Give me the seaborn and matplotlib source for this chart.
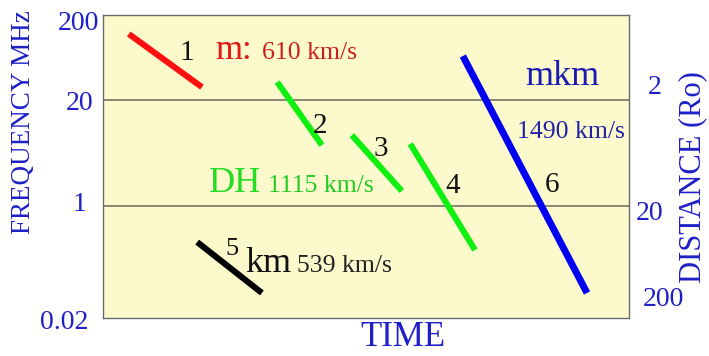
import numpy as np
import pandas as pd
import matplotlib
matplotlib.use("Agg")
import matplotlib.pyplot as plt
import matplotlib.transforms as mtransforms
import seaborn as sns

# Radio burst tracks (arbitrary time units, frequency in MHz)
burst_ids = ["1", "2", "3", "4", "5", "6"]
t_start = [4.9, 33.1, 47.3, 58.4, 17.9, 68.4]
t_end = [18.8, 41.6, 56.8, 70.7, 30.2, 92.0]
f_start = [134.0, 33.6, 7.4, 5.8, 0.284, 71.0]
f_end = [29.0, 5.6, 1.53, 0.215, 0.048, 0.048]

freq_ticks = [200, 20, 1, 0.02]
freq_tick_labels = ["200", "20", "1", "0.02"]
dist_tick_labels = ["2", "20", "200"]

sns.set_theme(style="white")
plt.rcParams["font.family"] = ["Liberation Serif", "DejaVu Serif"]

rows = []
for b, t0, t1, f0, f1 in zip(burst_ids, t_start, t_end, f_start, f_end):
    rows.append({"burst": b, "time": t0, "freq": f0})
    rows.append({"burst": b, "time": t1, "freq": f1})
df = pd.DataFrame(rows)

palette = {"1": "#ff1010", "2": "#10f010", "3": "#10f010",
           "4": "#10f010", "5": "#000000", "6": "#0000f0"}

# Schematic frequency axis: piecewise logarithmic spacing
LOG_KNOTS = np.array([-4.0, -1.699, 0.0, 1.301, 2.301, 4.0])
POS_KNOTS = np.array([-151.7, 0.0, 112.0, 218.0, 298.0, 434.0])


def fwd(f):
    lf = np.log10(np.clip(np.asarray(f, dtype=float), 1e-12, None))
    return np.interp(lf, LOG_KNOTS, POS_KNOTS)


def inv(p):
    return 10 ** np.interp(np.asarray(p, dtype=float), POS_KNOTS, LOG_KNOTS)


fig = plt.figure(figsize=(7.09, 3.56), dpi=100)
ax = fig.add_axes([0.1453, 0.1067, 0.742, 0.851])
ax.set_facecolor("#fcf9cc")
ax.set_yscale("function", functions=(fwd, inv))

for y in (20, 1):
    ax.axhline(y, color="#8a8574", lw=1.4, zorder=1)

sns.lineplot(data=df, x="time", y="freq", hue="burst", palette=palette,
             sort=False, estimator=None, legend=False, ax=ax, zorder=3)
for line, b in zip(ax.lines[2:], burst_ids):
    line.set_linewidth(5.0 if b == "6" else 4.4)
    line.set_solid_capstyle("butt")

ax.set_xlim(0, 100)
ax.set_ylim(0.02, float(inv(303.0)))
ax.set_xticks([])
ax.set_yticks([])
ax.set_xlabel("")
ax.set_ylabel("")
for s in ax.spines.values():
    s.set_color("#6b6b6b")
    s.set_linewidth(1.0)

blue = "#1f1fc8"

# left frequency labels
ytr = mtransforms.blended_transform_factory(fig.transFigure, ax.transData)
left_x = [78, 80, 80, 64]
left_dy = [-3, -3, 2, -4]
for v, lab, xp, dy in zip(freq_ticks, freq_tick_labels, left_x, left_dy):
    shift = mtransforms.ScaledTranslation(0, dy / 100, fig.dpi_scale_trans)
    ax.text(xp / 709, v, lab, transform=ytr + shift, ha="center",
            va="center", fontsize=20, color=blue, clip_on=False)

# right distance labels
right_pos = [(655, 88), (650, 213), (663, 300)]
for lab, (xp, yp) in zip(dist_tick_labels, right_pos):
    fig.text(xp / 709, 1 - yp / 356, lab, ha="center", va="center",
             fontsize=20, color=blue)

fig.text(24 / 709, 1 - 122 / 356, "FREQUENCY MHz", rotation=90,
         ha="center", va="center", fontsize=19.5, color=blue)
fig.text(693 / 709, 1 - 177 / 356, "DISTANCE (Ro)", rotation=90,
         ha="center", va="center", fontsize=22, color=blue)
fig.text(403 / 709, 1 - 338 / 356, "TIME", ha="center", va="center",
         fontsize=25, color=blue)

# burst annotations
notes = [
    ("1", 0.146, 0.851, 21, "#111111"),
    ("m:", 0.213, 0.855, 25, "#e01818"),
    ("610 km/s", 0.302, 0.855, 18.5, "#c82020"),
    ("2", 0.399, 0.611, 21, "#111111"),
    ("3", 0.515, 0.535, 21, "#111111"),
    ("DH", 0.202, 0.416, 26, "#22dd22"),
    ("1115 km/s", 0.314, 0.416, 18.5, "#22cc22"),
    ("4", 0.650, 0.413, 21, "#111111"),
    ("6", 0.840, 0.416, 21, "#111111"),
    ("5", 0.232, 0.208, 19, "#111111"),
    ("km", 0.270, 0.152, 26, "#111111"),
    ("539 km/s", 0.369, 0.152, 18.5, "#222222"),
    ("mkm", 0.802, 0.769, 26, "#1a1ab4"),
    ("1490 km/s", 0.787, 0.594, 18.5, "#2020a8"),
]
for txt, x, y, fs, c in notes:
    ax.text(x, y, txt, transform=ax.transAxes, ha="left", va="baseline",
            fontsize=fs, color=c, zorder=4)

fig.savefig("out.png", dpi=100, facecolor="white")
